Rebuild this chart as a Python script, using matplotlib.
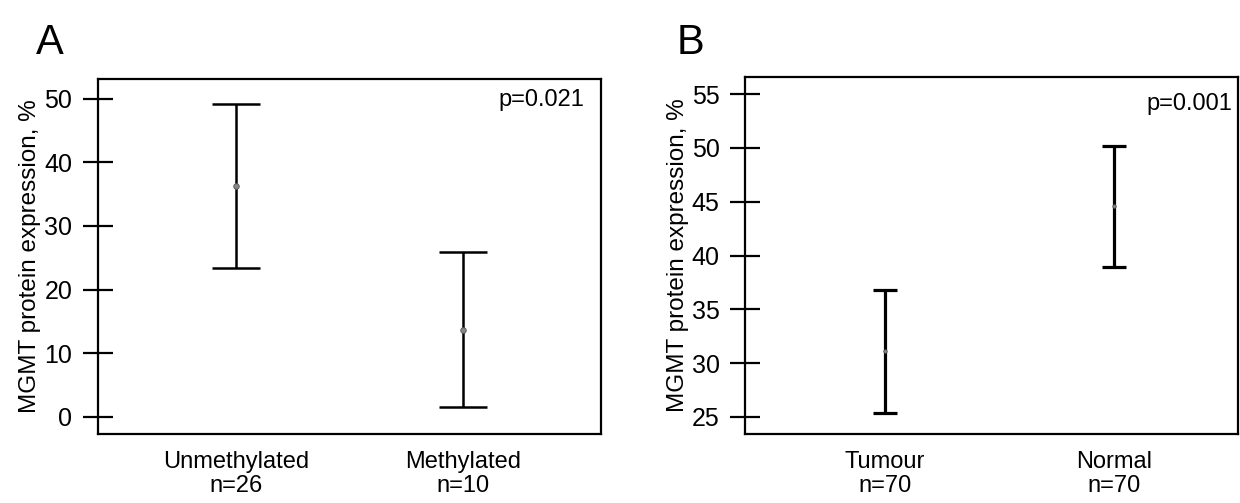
import matplotlib.pyplot as plt

plt.rcParams['font.family'] = ['Liberation Sans', 'DejaVu Sans']

# -------------------------------
# Data
# -------------------------------
groups_a = ['Unmethylated\nn=26', 'Methylated\nn=10']
mean_a = [36.3, 13.7]
low_a = [23.4, 1.6]
high_a = [49.1, 25.9]

groups_b = ['Tumour\nn=70', 'Normal\nn=70']
mean_b = [31.1, 44.6]
low_b = [25.4, 38.9]
high_b = [36.8, 50.2]

yticks_a = [0, 10, 20, 30, 40, 50]
yticks_b = [25, 30, 35, 40, 45, 50, 55]

fig = plt.figure(figsize=(12.4, 5.03), dpi=100)
ax_a = fig.add_axes([0.079, 0.137, 0.406, 0.706])
ax_b = fig.add_axes([0.601, 0.137, 0.397, 0.710])


def draw_panel(ax, labels, means, lows, highs, cap, lw, ms):
    x = list(range(len(labels)))
    err = [[m - l for m, l in zip(means, lows)],
           [h - m for m, h in zip(means, highs)]]
    ax.errorbar(x, means, yerr=err, fmt='none', ecolor='black',
                elinewidth=lw, capsize=cap, capthick=lw)
    ax.plot(x, means, 'o', color='#888888', markersize=ms,
            markeredgecolor='#555555', markeredgewidth=0.6, zorder=3)
    ax.set_xticks(x)
    ax.set_xticklabels(labels, fontsize=17, linespacing=1.15)
    ax.tick_params(axis='x', length=0, pad=12)
    ax.tick_params(axis='y', direction='inout', length=21, width=1.6,
                   labelsize=18, pad=8)
    for s in ax.spines.values():
        s.set_linewidth(1.6)
    ax.set_ylabel('MGMT protein expression, %', fontsize=17.5, labelpad=2)


draw_panel(ax_a, groups_a, mean_a, low_a, high_a, cap=17, lw=1.8, ms=4)
ax_a.set_yticks(yticks_a)
ax_a.set_ylim(-2.7, 53.1)
ax_a.set_xlim(-0.61, 1.61)
ax_a.text(0.966, 0.94, 'p=0.021', transform=ax_a.transAxes,
          ha='right', va='center', fontsize=17)

draw_panel(ax_b, groups_b, mean_b, low_b, high_b, cap=8.5, lw=2.3, ms=2.5)
ax_b.set_yticks(yticks_b)
ax_b.set_ylim(23.4, 56.6)
ax_b.set_xlim(-0.61, 1.54)
ax_b.text(0.99, 0.925, 'p=0.001', transform=ax_b.transAxes,
          ha='right', va='center', fontsize=17)

fig.text(0.029, 0.915, 'A', fontsize=30, va='center')
fig.text(0.546, 0.915, 'B', fontsize=30, va='center')

fig.savefig('out.png', dpi=100)
